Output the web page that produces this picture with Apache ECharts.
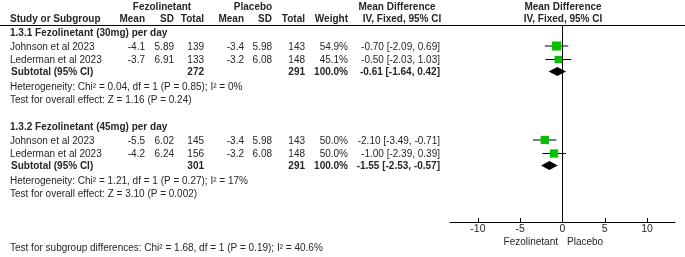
<!DOCTYPE html>
<html>
<head>
<meta charset="utf-8">
<script src="https://cdn.jsdelivr.net/npm/echarts@6.0.0/dist/echarts.min.js"></script>
<style>
    html, body { margin: 0; padding: 0; background: #fff; }
    #forest { width: 685px; height: 257px; }
</style>
</head>
<body>
<div id="forest"></div>
<script>
    // 数据：每个亚组两项研究
    const subgroupNames = ['1.3.1 Fezolinetant (30mg) per day', '1.3.2 Fezolinetant (45mg) per day'];
    const studyNames = [['Johnson et al 2023', 'Lederman et al 2023'], ['Johnson et al 2023', 'Lederman et al 2023']];
    const fezMean = [[-4.1, -3.7], [-5.5, -4.2]];
    const fezSD = [[5.89, 6.91], [6.02, 6.24]];
    const fezTotal = [[139, 133], [145, 156]];
    const plaMean = [[-3.4, -3.2], [-3.4, -3.2]];
    const plaSD = [[5.98, 6.08], [5.98, 6.08]];
    const plaTotal = [[143, 148], [143, 148]];
    const weights = [[54.9, 45.1], [50.0, 50.0]];
    const md = [[-0.70, -0.50], [-2.10, -1.00]];
    const ciLow = [[-2.09, -2.03], [-3.49, -2.39]];
    const ciHigh = [[0.69, 1.03], [-0.71, 0.39]];
    // 亚组合计
    const subMd = [-0.61, -1.55];
    const subLow = [-1.64, -2.53];
    const subHigh = [0.42, -0.57];
    const subFezTotal = [272, 301];
    const subPlaTotal = [291, 291];
    const heterogeneity = ['Heterogeneity: Chi\u00b2 = 0.04, df = 1 (P = 0.85); I\u00b2 = 0%',
        'Heterogeneity: Chi\u00b2 = 1.21, df = 1 (P = 0.27); I\u00b2 = 17%'];
    const overallEffect = ['Test for overall effect: Z = 1.16 (P = 0.24)',
        'Test for overall effect: Z = 3.10 (P = 0.002)'];
    const subgroupTest = 'Test for subgroup differences: Chi\u00b2 = 1.68, df = 1 (P = 0.19); I\u00b2 = 40.6%';
    const xTicks = [-10, -5, 0, 5, 10];
    const favours = ['Fezolinetant', 'Placebo'];

    // 版面：每行的像素位置（y轴按像素取值）
    const groupRows = [[33, 47, 60.5, 72, 87, 100], [127, 141, 154.5, 166, 181, 194]];
    // 各列右对齐位置
    const COL = {fezMean: 145, fezSD: 174, fezTotal: 204, plaMean: 244, plaSD: 272, plaTotal: 305, weight: 348, md: 440};
    const FONT = '"Liberation Sans", Arial, sans-serif';
    const TXT = '#262626';

    function fmt(v, d) {
        return v.toFixed(d);
    }

    function txt(x, y, text, align, bold) {
        return {
            type: 'text', x: x, y: y, silent: true,
            style: {
                text: text, align: align || 'left', verticalAlign: 'middle',
                font: (bold ? 'bold ' : '') + '10px ' + FONT, fill: TXT
            }
        };
    }

    let texts = [];
    // 表头
    texts.push(txt(162, 7, 'Fezolinetant', 'center', true));
    texts.push(txt(253, 7, 'Placebo', 'center', true));
    texts.push(txt(397, 7, 'Mean Difference', 'center', true));
    texts.push(txt(563, 7, 'Mean Difference', 'center', true));
    texts.push(txt(10, 19.5, 'Study or Subgroup', 'left', true));
    texts.push(txt(COL.fezMean, 19.5, 'Mean', 'right', true));
    texts.push(txt(COL.fezSD, 19.5, 'SD', 'right', true));
    texts.push(txt(COL.fezTotal, 19.5, 'Total', 'right', true));
    texts.push(txt(COL.plaMean, 19.5, 'Mean', 'right', true));
    texts.push(txt(COL.plaSD, 19.5, 'SD', 'right', true));
    texts.push(txt(COL.plaTotal, 19.5, 'Total', 'right', true));
    texts.push(txt(COL.weight, 19.5, 'Weight', 'right', true));
    texts.push(txt(402, 19.5, 'IV, Fixed, 95% CI', 'center', true));
    texts.push(txt(563, 19.5, 'IV, Fixed, 95% CI', 'center', true));
    texts.push({
        type: 'line', silent: true,
        shape: {x1: 0, y1: 25.5, x2: 685, y2: 25.5},
        style: {stroke: '#000', lineWidth: 1}
    });

    let studyData = [];
    let subData = [];
    for (let g = 0; g < subgroupNames.length; g++) {
        let r = groupRows[g];
        texts.push(txt(10, r[0], subgroupNames[g], 'left', true));
        for (let i = 0; i < studyNames[g].length; i++) {
            let y = r[1 + i];
            texts.push(txt(10, y, studyNames[g][i]));
            texts.push(txt(COL.fezMean, y, fmt(fezMean[g][i], 1), 'right'));
            texts.push(txt(COL.fezSD, y, fmt(fezSD[g][i], 2), 'right'));
            texts.push(txt(COL.fezTotal, y, String(fezTotal[g][i]), 'right'));
            texts.push(txt(COL.plaMean, y, fmt(plaMean[g][i], 1), 'right'));
            texts.push(txt(COL.plaSD, y, fmt(plaSD[g][i], 2), 'right'));
            texts.push(txt(COL.plaTotal, y, String(plaTotal[g][i]), 'right'));
            texts.push(txt(COL.weight, y, fmt(weights[g][i], 1) + '%', 'right'));
            texts.push(txt(COL.md, y, fmt(md[g][i], 2) + ' [' + fmt(ciLow[g][i], 2) + ', ' + fmt(ciHigh[g][i], 2) + ']', 'right'));
            studyData.push([md[g][i], ciLow[g][i], ciHigh[g][i], weights[g][i], y - 1]);
        }
        texts.push(txt(11, r[3], 'Subtotal (95% CI)', 'left', true));
        texts.push(txt(COL.fezTotal, r[3], String(subFezTotal[g]), 'right', true));
        texts.push(txt(COL.plaTotal, r[3], String(subPlaTotal[g]), 'right', true));
        texts.push(txt(COL.weight, r[3], '100.0%', 'right', true));
        texts.push(txt(COL.md, r[3], fmt(subMd[g], 2) + ' [' + fmt(subLow[g], 2) + ', ' + fmt(subHigh[g], 2) + ']', 'right', true));
        texts.push(txt(10, r[4], heterogeneity[g]));
        texts.push(txt(10, r[5], overallEffect[g]));
        subData.push([subMd[g], subLow[g], subHigh[g], r[3] - 0.5]);
    }
    texts.push(txt(10, 248, subgroupTest));
    texts.push(txt(558, 242, favours[0], 'right'));
    texts.push(txt(567, 242, favours[1], 'left'));

    let chart = echarts.init(document.getElementById('forest'), null, {renderer: 'canvas'});
    chart.setOption({
        animation: false,
        backgroundColor: '#fff',
        grid: {left: 450, right: 10, top: 25, bottom: 35},
        xAxis: {
            type: 'value',
            min: -13.3,
            max: 13.3,
            splitLine: {show: false},
            axisLine: {show: true, onZero: false, lineStyle: {color: '#000', width: 1}},
            axisTick: {show: true, inside: true, length: 4, customValues: xTicks, lineStyle: {color: '#000'}},
            axisLabel: {customValues: xTicks, color: TXT, fontSize: 10.5, fontFamily: FONT, margin: 2}
        },
        yAxis: {type: 'value', min: 25, max: 222, inverse: true, show: false},
        graphic: texts,
        series: [
            {
                // 各研究：置信区间 + 方块
                type: 'custom',
                data: studyData,
                silent: true,
                renderItem: function (params, api) {
                    let y = api.value(4);
                    let mid = api.coord([api.value(0), y]);
                    let lo = api.coord([api.value(1), y]);
                    let hi = api.coord([api.value(2), y]);
                    let s = api.value(3) * 0.165;
                    return {
                        type: 'group',
                        children: [
                            {type: 'line', shape: {x1: lo[0], y1: mid[1], x2: hi[0], y2: mid[1]}, style: {stroke: '#000', lineWidth: 1}},
                            {type: 'rect', shape: {x: mid[0] - s / 2, y: mid[1] - s / 2, width: s, height: s}, style: {fill: '#00c000'}}
                        ]
                    };
                },
                markLine: {
                    silent: true,
                    symbol: 'none',
                    label: {show: false},
                    lineStyle: {color: '#000', width: 1, type: 'solid'},
                    data: [{xAxis: 0}]
                }
            },
            {
                // 亚组合计：菱形
                type: 'custom',
                data: subData,
                silent: true,
                renderItem: function (params, api) {
                    let y = api.value(3);
                    let mid = api.coord([api.value(0), y]);
                    let lo = api.coord([api.value(1), y]);
                    let hi = api.coord([api.value(2), y]);
                    return {
                        type: 'polygon',
                        shape: {points: [[lo[0], mid[1]], [mid[0], mid[1] - 4.5], [hi[0], mid[1]], [mid[0], mid[1] + 4.5]]},
                        style: {fill: '#000'}
                    };
                }
            }
        ]
    });
</script>
</body>
</html>
